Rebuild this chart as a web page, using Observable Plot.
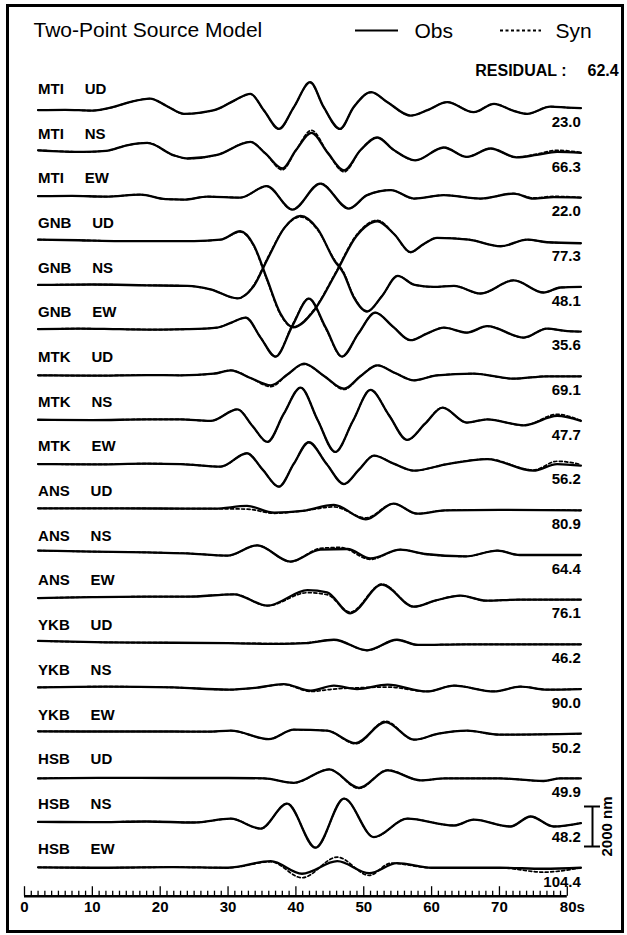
<!DOCTYPE html>
<html>
<head>
<meta charset="utf-8">
<script src="https://cdn.jsdelivr.net/npm/d3@7"></script>
<script src="https://cdn.jsdelivr.net/npm/@observablehq/plot@0.6"></script>
<style>
  html, body { margin: 0; padding: 0; background: #fff; }
  #chart svg { display: block; }
</style>
</head>
<body>
<div id="chart"></div>
<script>
// Station / component of each record, top to bottom, and its residual
const stations   = ["MTI","MTI","MTI","GNB","GNB","GNB","MTK","MTK","MTK","ANS","ANS","ANS","YKB","YKB","YKB","HSB","HSB","HSB"];
const components = ["UD","NS","EW","UD","NS","EW","UD","NS","EW","UD","NS","EW","UD","NS","EW","UD","NS","EW"];
const residuals  = ["23.0","66.3","22.0","77.3","48.1","35.6","69.1","47.7","56.2","80.9","64.4","76.1","46.2","90.0","50.2","49.9","48.2","104.4"];
const totalResidual = "62.4";
const timeTicks = [0,10,20,30,40,50,60,70,80];

// Waveforms: [time (s), displacement (nm)]
const MTI_UD = [[2,-100],[6,-80],[10,-120],[13,50],[15.5,300],[18.5,480],[21,100],[23.5,-280],[26,-220],[28.4,-50],[30.9,380],[33.3,720],[35.3,-120],[37.5,-1030],[39.7,50],[42.1,1300],[44.1,50],[46.5,-1030],[48.5,50],[51.1,800],[53.5,300],[56.9,-370],[59.5,-80],[62.3,300],[66.2,-200],[69.2,220],[72,-120],[74.1,-280],[77.5,80],[80,30],[82,0]];
const MTI_NS = [[2,130],[8.7,50],[12,100],[15.1,380],[18.1,500],[22,-120],[24,-280],[28.4,-100],[33.3,550],[35.5,-30],[38,-780],[40,130],[42.3,1000],[44.7,0],[47.1,-870],[49.5,130],[52,770],[54.4,150],[57.6,-370],[61.8,270],[65.2,-200],[68.7,220],[72.5,-220],[75.5,-100],[78.5,50],[82,0]];
const MTI_EW = [[2,70],[7,80],[12,50],[17.1,150],[20.8,-80],[23.5,-100],[27,50],[31.8,0],[35.7,570],[39.5,-600],[43.6,700],[47.8,-550],[50.5,120],[54,370],[57.4,-50],[61.8,120],[67.2,-50],[72.1,200],[75,-50],[78,20],[82,0]];
const GNB_UD = [[2,130],[8,100],[14,60],[20,60],[25,60],[28.9,130],[31.8,550],[33.8,-150],[35.7,-1800],[37.7,-3550],[39.6,-4250],[42.7,-3400],[45.8,-1600],[48.9,300],[52,1050],[54.5,400],[56.9,-500],[58.8,-100],[60.8,220],[65.5,130],[70.2,-200],[74.1,130],[77,0],[82,-50]];
const GNB_NS = [[2,100],[10,120],[18,80],[24,50],[27.4,-120],[31.4,-570],[33.7,0],[35.9,1450],[38.3,2950],[40.7,3550],[43.2,2900],[45.7,1300],[47,700],[48.5,-500],[50.5,-1230],[52.7,-450],[55,550],[57.5,100],[60.3,0],[63.3,50],[67.2,-330],[72.1,330],[76.5,-280],[79,-30],[82,0]];
const GNB_EW = [[2,120],[8,150],[14,120],[20,100],[24,120],[28.4,200],[30.5,450],[32.6,700],[34.8,-300],[37,-1250],[39.5,300],[41.9,1650],[44.4,200],[46.8,-1250],[49.2,-100],[51.7,950],[54.3,250],[56.9,-430],[59.3,-100],[61.8,200],[65.2,-50],[68.2,270],[73.6,-300],[77,150],[80,20],[82,0]];
const MTK_UD = [[2,50],[10,30],[18,60],[23,50],[27.9,130],[30.4,300],[33.4,-100],[36.3,-450],[38.8,100],[41.2,630],[44.2,0],[47.1,-620],[49.5,0],[52,550],[54.7,150],[57.4,-200],[60.8,50],[66.2,130],[72.1,-120],[77,0],[82,0]];
const MTK_NS = [[2,60],[10,40],[18,80],[23,80],[27.4,0],[31.4,580],[33.6,-250],[35.8,-1050],[38.2,350],[40.7,1670],[43.2,50],[45.8,-1550],[48.4,0],[51,1550],[53.7,300],[56.4,-950],[59,-150],[61.6,670],[65.2,-80],[68.2,80],[73.6,-220],[78.5,250],[82,0]];
const MTK_EW = [[2,80],[10,60],[18,100],[23,80],[28.9,-50],[32.8,620],[35.1,-200],[37.5,-1050],[39.7,100],[41.9,1170],[44.5,100],[47.1,-920],[49.3,-200],[51.5,500],[54.4,100],[57.4,-250],[62.3,80],[68.2,330],[75,-250],[78.5,80],[82,0]];
const ANS_UD = [[2,100],[10,100],[20,90],[28,80],[32.8,220],[36.8,-120],[41,-30],[45.6,270],[50.3,-450],[54.4,330],[57.9,-170],[62,0],[70,20],[82,0]];
const ANS_NS = [[2,220],[10,170],[18,130],[24,80],[29.9,-30],[34.3,480],[39.2,-330],[43.6,270],[47.6,300],[51,-170],[55.4,270],[59,50],[65,-70],[69.7,220],[73,0],[82,0]];
const ANS_EW = [[2,80],[10,130],[18,150],[24,150],[30.9,270],[35.8,-300],[41.7,480],[44.6,370],[48,-680],[52.7,750],[57.4,-350],[60.5,-50],[64.3,200],[68,-50],[73,0],[82,0]];
const YKB_UD = [[2,170],[12,100],[22,80],[30,60],[38,20],[41.5,60],[45.6,230],[50.5,-300],[54.9,230],[58,-30],[65,0],[82,0]];
const YKB_NS = [[2,80],[12,120],[22,80],[30,-30],[34,60],[38.2,250],[42.2,-80],[45.6,170],[49,0],[53.5,220],[59.3,-120],[63.3,170],[69.2,-120],[73.1,120],[77,-30],[82,0]];
const YKB_EW = [[2,120],[12,110],[22,110],[27,100],[30.4,150],[36,-270],[39.7,200],[44.6,150],[48.8,-470],[53.2,580],[57.4,-300],[61,0],[65.2,150],[70,-50],[82,0]];
const HSB_UD = [[2,0],[12,30],[22,20],[30,20],[35.3,0],[39.7,-220],[44.9,450],[49.3,-470],[53.5,400],[58.4,-100],[62,0],[70,0],[76.5,-130],[79,0],[82,0]];
const HSB_NS = [[2,60],[10,50],[18,80],[25,30],[30.4,220],[34.8,-280],[38.7,970],[42.9,-1230],[47.1,1220],[51.5,-700],[56.4,220],[63.3,-120],[66.2,170],[71.6,-170],[74.6,330],[78,-170],[82,0]];
const HSB_EW = [[2,20],[12,0],[22,30],[30,0],[36.3,330],[40.9,-300],[46.1,330],[50.8,-270],[54.9,230],[60,0],[70,0],[76.5,-50],[82,0]];

// Synthetic waveforms
const MTI_UD_syn = [[2,-100],[6,-80],[10,-120],[13,50],[15.5,300],[18.5,480],[21,100],[23.5,-280],[26,-220],[28.4,-50],[30.9,380],[33.3,700],[35.3,-120],[37.5,-1050],[39.7,50],[42.1,1280],[44.1,50],[46.5,-1050],[48.5,50],[51.1,790],[53.5,300],[56.9,-370],[59.5,-80],[62.3,300],[66.2,-200],[69.2,220],[72,-120],[74.1,-280],[77.5,80],[80,30],[82,0]];
const MTI_NS_syn = [[2,130],[8.7,50],[12,100],[15.1,380],[18.1,500],[22,-120],[24,-280],[28.4,-100],[33.3,550],[35.5,-30],[38,-850],[40,130],[42.3,1130],[44.7,0],[47.1,-950],[49.5,130],[52,770],[54.4,150],[57.6,-370],[61.8,270],[65.2,-200],[68.7,220],[72.5,-220],[75.5,-60],[78.5,130],[82,20]];
const MTI_EW_syn = [[2,70],[7,80],[12,50],[17.1,150],[20.8,-80],[23.5,-100],[27,50],[31.8,0],[35.7,570],[39.5,-600],[43.6,700],[47.8,-550],[50.5,120],[54,370],[57.4,-50],[61.8,120],[67.2,-50],[72.1,200],[75,-20],[78,60],[82,0]];
const GNB_UD_syn = [[2,130],[8,100],[14,60],[20,60],[25,60],[28.9,130],[31.8,520],[33.8,-200],[35.7,-1850],[37.7,-3600],[39.6,-4250],[42.7,-3350],[45.8,-1550],[48.9,350],[52,1100],[54.5,400],[56.9,-500],[58.8,-100],[60.8,220],[65.5,130],[70.2,-200],[74.1,130],[77,0],[82,-50]];
const GNB_NS_syn = [[2,100],[10,120],[18,80],[24,50],[27.4,-120],[31.4,-570],[33.7,50],[35.9,1500],[38.3,2950],[40.7,3500],[43.2,2850],[45.7,1350],[47,750],[48.5,-450],[50.5,-1230],[52.7,-450],[55,550],[57.5,100],[60.3,0],[63.3,50],[67.2,-330],[72.1,330],[76.5,-280],[79,-30],[82,0]];
const GNB_EW_syn = [[2,120],[8,150],[14,120],[20,100],[24,120],[28.4,200],[30.5,450],[32.6,700],[34.8,-300],[37,-1250],[39.5,350],[41.9,1650],[44.4,150],[46.8,-1250],[49.2,-100],[51.7,950],[54.3,250],[56.9,-430],[59.3,-100],[61.8,200],[65.2,-50],[68.2,270],[73.6,-300],[77,150],[80,20],[82,0]];
const MTK_UD_syn = [[2,50],[10,30],[18,60],[23,50],[27.9,130],[30.4,300],[33.4,-100],[36.3,-520],[38.8,100],[41.2,600],[44.2,0],[47.1,-660],[49.5,0],[52,550],[54.7,150],[57.4,-200],[60.8,50],[66.2,130],[72.1,-120],[77,0],[82,0]];
const MTK_NS_syn = [[2,60],[10,40],[18,80],[23,80],[27.4,0],[31.4,580],[33.6,-250],[35.8,-1050],[38.2,350],[40.7,1670],[43.2,50],[45.8,-1550],[48.4,0],[51,1550],[53.7,300],[56.4,-950],[59,-150],[61.6,670],[65.2,-80],[68.2,80],[73.6,-220],[78.5,330],[82,20]];
const MTK_EW_syn = [[2,80],[10,60],[18,100],[23,80],[28.9,-50],[32.8,620],[35.1,-200],[37.5,-1050],[39.7,100],[41.9,1170],[44.5,100],[47.1,-920],[49.3,-200],[51.5,500],[54.4,100],[57.4,-250],[62.3,80],[68.2,330],[75,-220],[78.5,220],[82,60]];
const ANS_UD_syn = [[2,100],[10,100],[20,90],[28,80],[32.8,60],[36.8,-150],[41,-30],[45.6,170],[50.3,-380],[54.4,330],[57.9,-170],[62,0],[70,20],[82,0]];
const ANS_NS_syn = [[2,220],[10,170],[18,130],[24,80],[29.9,-30],[34.3,480],[39.2,-330],[43.6,330],[46.5,380],[51,-220],[55.4,270],[59,50],[65,-70],[69.7,220],[73,0],[82,0]];
const ANS_EW_syn = [[2,80],[10,130],[18,150],[24,150],[30.9,270],[35.8,-300],[41.7,350],[44.6,250],[48,-620],[52.7,780],[57.4,-350],[60.5,-50],[64.3,200],[68,-50],[73,0],[82,0]];
const YKB_UD_syn = [[2,170],[12,100],[22,80],[30,60],[38,40],[41.5,80],[45.6,230],[50.5,-300],[54.9,230],[58,-30],[65,0],[82,0]];
const YKB_NS_syn = [[2,80],[12,120],[22,80],[30,-30],[34,60],[38.2,230],[42.2,-120],[45.6,0],[49,60],[53.5,100],[59.3,-120],[63.3,170],[69.2,-120],[73.1,120],[77,-30],[82,0]];
const YKB_EW_syn = [[2,120],[12,110],[22,110],[27,100],[30.4,150],[36,-270],[39.7,200],[44.6,150],[48.8,-500],[53.2,620],[57.4,-300],[61,0],[65.2,150],[70,-50],[82,0]];
const HSB_UD_syn = [[2,0],[12,30],[22,20],[30,20],[35.3,0],[39.7,-220],[44.9,450],[49.3,-500],[53.5,420],[58.4,-100],[62,0],[70,0],[76.5,-130],[79,0],[82,0]];
const HSB_NS_syn = [[2,60],[10,50],[18,80],[25,30],[30.4,220],[34.8,-280],[38.7,970],[42.9,-1230],[47.1,1220],[51.5,-700],[56.4,220],[63.3,-120],[66.2,170],[71.6,-170],[74.6,330],[78,-170],[82,0]];
const HSB_EW_syn = [[2,20],[12,0],[22,30],[30,0],[36.3,300],[40.9,-500],[46.1,530],[50.8,-380],[54,230],[60,0],[70,0],[76.5,-220],[82,0]];

const obsSeries = [MTI_UD,MTI_NS,MTI_EW,GNB_UD,GNB_NS,GNB_EW,MTK_UD,MTK_NS,MTK_EW,ANS_UD,ANS_NS,ANS_EW,YKB_UD,YKB_NS,YKB_EW,HSB_UD,HSB_NS,HSB_EW];
const synSeries = [MTI_UD_syn,MTI_NS_syn,MTI_EW_syn,GNB_UD_syn,GNB_NS_syn,GNB_EW_syn,MTK_UD_syn,MTK_NS_syn,MTK_EW_syn,ANS_UD_syn,ANS_NS_syn,ANS_EW_syn,YKB_UD_syn,YKB_NS_syn,YKB_EW_syn,HSB_UD_syn,HSB_NS_syn,HSB_EW_syn];

// ---- layout ----
const W = 627, H = 935;
const X_T0 = 24, PX_PER_S = 6.785;      // pixel of t = 0 and seconds scale
const Y_FIRST = 107.7, NM_PER_PX = 50;  // first trace baseline, amplitude scale
const SPACING = 2234;                   // nm between successive baselines
const N = stations.length;
const tAt = px => (px - X_T0) / PX_PER_S;
const vAt = py => (Y_FIRST - py) * NM_PER_PX;

const records = stations.map((s, i) => ({i, station: s, comp: components[i], residual: residuals[i], base: -i * SPACING}));
const toRows = series => series.flatMap((pts, i) => pts.map(([t, a]) => ({i, t, v: a - i * SPACING})));
const obsRows = toRows(obsSeries);
const synRows = toRows(synSeries);

const FONT = "'Liberation Sans', Arial, Helvetica, sans-serif";
const axisV = vAt(895.7);
const secTicks = d3.range(0, 81);
const barBottom = vAt(846), SCALE_NM = 2000;

const chart = Plot.plot({
  width: W, height: H,
  marginTop: 5, marginLeft: 7, marginRight: 5, marginBottom: 4,
  style: {fontFamily: FONT, color: "#000", background: "#fff"},
  x: {domain: [0, 80], range: [X_T0, X_T0 + 80 * PX_PER_S], axis: null},
  y: {domain: [0, -(N - 1) * SPACING], range: [Y_FIRST, Y_FIRST + (N - 1) * SPACING / NM_PER_PX], axis: null},
  marks: [
    Plot.frame({stroke: "#000", strokeWidth: 3}),
    // title and legend
    Plot.text(["Two-Point Source Model"], {x: tAt(33), y: vAt(30), textAnchor: "start", lineAnchor: "middle", fontSize: 21}),
    Plot.ruleY([vAt(30)], {x1: tAt(355), x2: tAt(398), stroke: "#000", strokeWidth: 2}),
    Plot.text(["Obs"], {x: tAt(414), y: vAt(31), textAnchor: "start", fontSize: 21}),
    Plot.ruleY([vAt(30)], {x1: tAt(500), x2: tAt(541), stroke: "#000", strokeWidth: 2, strokeDasharray: "3,2.5"}),
    Plot.text(["Syn"], {x: tAt(555), y: vAt(31), textAnchor: "start", fontSize: 21}),
    Plot.text(["RESIDUAL :"], {x: tAt(566), y: vAt(70), textAnchor: "end", fontSize: 16, fontWeight: "bold"}),
    Plot.text([totalResidual], {x: tAt(587), y: vAt(70), textAnchor: "start", fontSize: 16, fontWeight: "bold"}),
    // waveforms
    Plot.line(synRows, {x: "t", y: "v", z: "i", curve: "monotone-x", stroke: "#000", strokeWidth: 1.7, strokeDasharray: "3,2.5"}),
    Plot.line(obsRows, {x: "t", y: "v", z: "i", curve: "monotone-x", stroke: "#000", strokeWidth: 2.3}),
    // record labels and residuals
    Plot.text(records, {x: 2, y: "base", dy: -19, text: d => d.station + "\u00a0\u00a0\u00a0\u00a0\u00a0" + d.comp, textAnchor: "start", fontSize: 15, fontWeight: "bold"}),
    Plot.text(records, {x: 82, y: "base", dy: 14, text: "residual", textAnchor: "end", fontSize: 15, fontWeight: "bold"}),
    // amplitude scale bar
    Plot.ruleX([tAt(592)], {y1: barBottom, y2: barBottom + SCALE_NM, stroke: "#000", strokeWidth: 2}),
    Plot.ruleY([barBottom, barBottom + SCALE_NM], {x1: tAt(584), x2: tAt(600), stroke: "#000", strokeWidth: 2}),
    Plot.text(["2000 nm"], {x: tAt(607), y: barBottom + SCALE_NM / 2, rotate: -90, fontSize: 15, fontWeight: "bold"}),
    // time axis
    Plot.ruleY([axisV], {x1: 0, x2: 80, stroke: "#000", strokeWidth: 2.5}),
    Plot.ruleX(secTicks, {x: d => d, y1: axisV, y2: d => axisV + (d % 10 === 0 ? 9.5 : 5) * NM_PER_PX, stroke: "#000", strokeWidth: 1.3}),
    Plot.text(timeTicks.filter(d => d < 80), {x: d => d, y: axisV, dy: 11, text: d => String(d), fontSize: 15, fontWeight: "bold"}),
    Plot.text(timeTicks.filter(d => d === 80), {x: d => d, y: axisV, dy: 11, dx: 5, text: d => d + "s", fontSize: 15, fontWeight: "bold"})
  ]
});
document.getElementById("chart").append(chart);
</script>
</body>
</html>
